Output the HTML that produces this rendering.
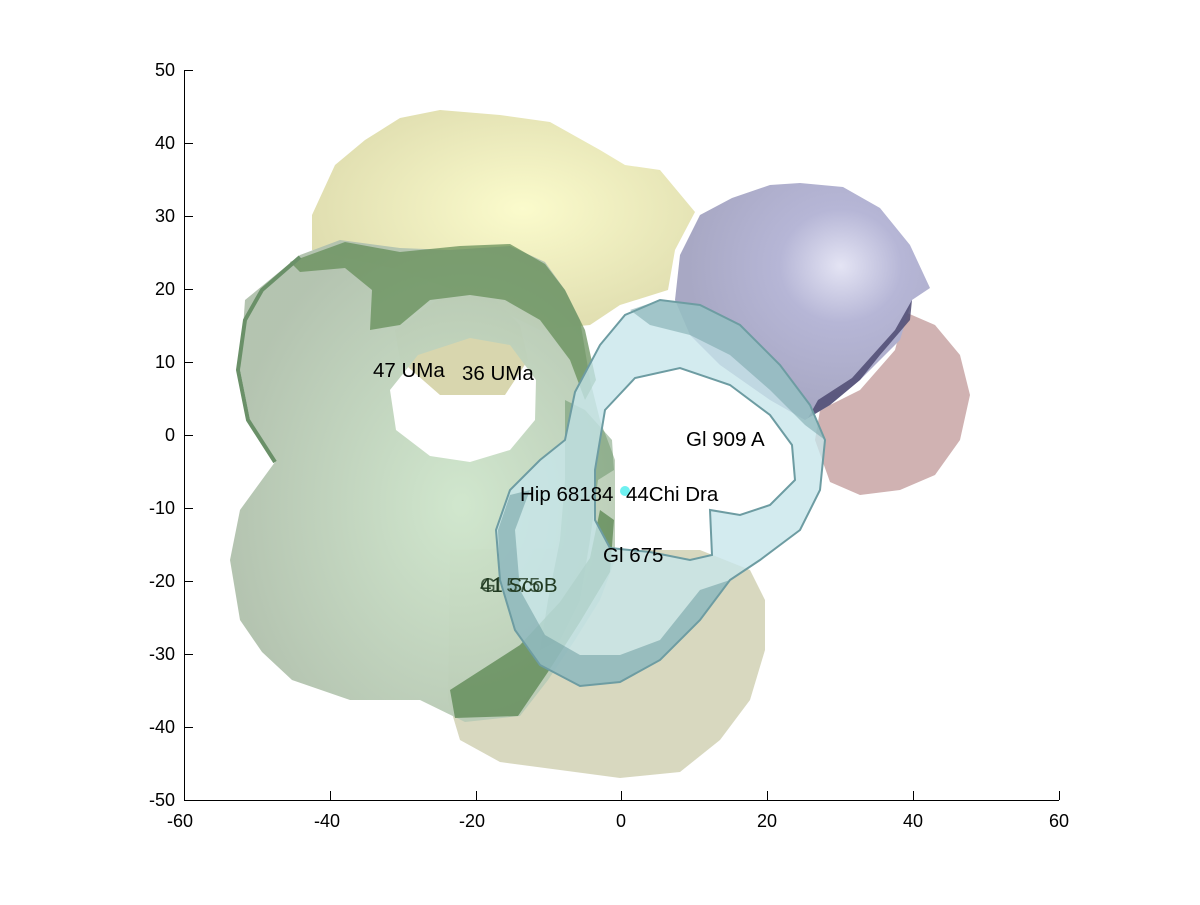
<!DOCTYPE html>
<html><head><meta charset="utf-8"><style>
html,body{margin:0;padding:0;background:#fff;}
svg text{font-family:"Liberation Sans",Arial,sans-serif;}
</style></head><body>
<svg width="1200" height="900" viewBox="0 0 1200 900" xmlns="http://www.w3.org/2000/svg">
<rect width="1200" height="900" fill="#fff"/>
<defs>
<radialGradient id="gy" cx="0.55" cy="0.45" r="0.6"><stop offset="0" stop-color="#fbfbcc"/><stop offset="1" stop-color="#dedcae"/></radialGradient>
<radialGradient id="gp" cx="0.65" cy="0.35" r="0.6"><stop offset="0" stop-color="#e4e4f4"/><stop offset="0.4" stop-color="#b6b6d6"/><stop offset="1" stop-color="#a8a8c4"/></radialGradient>
<radialGradient id="gg" cx="0.6" cy="0.55" r="0.6"><stop offset="0" stop-color="#cfe6cc"/><stop offset="1" stop-color="#b2c2ae"/></radialGradient>
</defs>
<polygon fill="url(#gy)" points="312,215 335,165 365,140 400,118 440,110 500,115 550,122 600,150 625,165 660,170 695,212 675,250 668,290 620,305 590,325 540,330 480,300 400,270 312,250"/>
<polygon fill="#d6d6bc" opacity="0.95" points="450,550 520,548 600,550 700,550 750,570 765,600 765,650 750,700 720,740 680,772 620,778 560,770 500,762 460,740 448,700"/>
<polygon fill="#d0b2b2" points="905,312 935,325 960,355 970,395 960,440 935,475 900,490 860,495 830,482 815,440 820,410 860,390 895,350"/>
<polygon fill="url(#gp)" points="680,255 700,215 732,198 770,185 800,183 843,187 880,208 910,245 930,288 912,300 900,340 860,380 830,405 805,420 770,400 720,365 690,335 675,300"/>
<polygon fill="#4e4a72" opacity="0.85" points="912,300 910,320 880,355 860,380 830,405 808,418 818,400 852,378 895,330"/>
<polygon fill="#d8d6ae" points="395,330 440,298 490,295 520,325 528,360 505,395 440,395 400,360"/>
<path fill="url(#gg)" fill-opacity="0.97" fill-rule="evenodd" d="M245,300 L240,370 L250,420 L275,462 L240,510 L230,560 L240,620 L262,652 L292,680 L350,700 L420,700 L465,722 L520,716 L548,680 L575,640 L600,600 L615,560 L615,460 L600,420 L590,380 L580,320 L565,290 L545,262 L510,246 L450,250 L400,248 L340,240 L300,255 Z M390,390 L418,355 L470,338 L510,345 L536,380 L535,420 L510,450 L470,462 L430,456 L396,430 Z"/>
<polygon fill="#5f8a52" opacity="0.7" points="290,262 345,242 400,252 460,246 510,244 545,264 565,290 585,330 596,380 585,400 570,360 540,320 505,300 470,295 430,300 400,325 370,330 372,290 345,268 300,272"/>
<polygon fill="#5a8650" opacity="0.75" points="450,690 520,645 560,602 590,558 600,510 614,520 610,572 580,622 548,672 518,716 455,718"/>
<polygon fill="#5a8a5a" opacity="0.45" points="565,400 585,410 612,440 614,470 598,480 590,540 580,600 560,640 540,650 548,600 560,540 565,480"/>
<polyline fill="none" stroke="#6a9068" stroke-width="4" points="300,257 262,290 245,320 238,370 248,420 275,462"/>
<path fill="#c6e6ea" fill-opacity="0.78" stroke="#6d9ca2" stroke-width="2" fill-rule="evenodd" d="M575,392 L600,345 L625,315 L660,300 L700,305 L740,325 L780,365 L810,405 L825,440 L820,490 L800,530 L760,560 L730,580 L700,620 L660,660 L620,682 L580,686 L540,665 L515,630 L500,580 L496,530 L510,490 L540,460 L565,440 Z M605,410 L635,378 L680,368 L730,385 L770,415 L792,445 L795,480 L770,505 L740,515 L710,510 L712,555 L690,560 L650,552 L610,548 L595,520 L595,470 L600,440 Z"/>
<polygon fill="#6f9fa3" opacity="0.55" points="500,580 515,630 540,665 580,686 620,682 660,660 700,620 730,580 700,590 660,640 620,655 580,655 545,635 520,590 515,530 530,490 510,495 498,530"/>
<polygon fill="#6f9fa3" opacity="0.5" points="630,310 660,300 700,305 740,325 780,365 810,405 825,440 805,425 770,390 730,355 690,335 650,325"/>
<circle cx="625" cy="491" r="5" fill="#6ef0f0"/>
<g font-size="20.5" fill="#000">
<text x="373" y="377">47 UMa</text>
<text x="462" y="380">36 UMa</text>
<text x="686" y="446">Gl 909 A</text>
<text x="520" y="501">Hip 68184</text>
<text x="626" y="501">44Chi Dra</text>
<text x="603" y="562">Gl 675</text>
<text x="480" y="592" fill="#213a21">41 ScoB</text>
<text x="480" y="592" fill="#213a21" opacity="0.8">Gl 575</text>
</g>
<g stroke="#000" stroke-width="1" fill="none">
<line x1="184.5" y1="70" x2="184.5" y2="800"/>
<line x1="184" y1="800.5" x2="1059" y2="800.5"/>
<line x1="184" y1="70.5" x2="193" y2="70.5"/>
<line x1="184" y1="143.5" x2="193" y2="143.5"/>
<line x1="184" y1="216.5" x2="193" y2="216.5"/>
<line x1="184" y1="289.5" x2="193" y2="289.5"/>
<line x1="184" y1="362.5" x2="193" y2="362.5"/>
<line x1="184" y1="435.5" x2="193" y2="435.5"/>
<line x1="184" y1="508.5" x2="193" y2="508.5"/>
<line x1="184" y1="581.5" x2="193" y2="581.5"/>
<line x1="184" y1="654.5" x2="193" y2="654.5"/>
<line x1="184" y1="727.5" x2="193" y2="727.5"/>
<line x1="330.5" y1="800" x2="330.5" y2="791"/>
<line x1="476.5" y1="800" x2="476.5" y2="791"/>
<line x1="621.5" y1="800" x2="621.5" y2="791"/>
<line x1="767.5" y1="800" x2="767.5" y2="791"/>
<line x1="913.5" y1="800" x2="913.5" y2="791"/>
<line x1="1059.5" y1="800" x2="1059.5" y2="791"/>
</g>
<g font-size="18" fill="#000" text-anchor="end">
<text x="175" y="76">50</text><text x="175" y="149">40</text><text x="175" y="222">30</text>
<text x="175" y="295">20</text><text x="175" y="368">10</text><text x="175" y="441">0</text>
<text x="175" y="514">-10</text><text x="175" y="587">-20</text><text x="175" y="660">-30</text>
<text x="175" y="733">-40</text><text x="175" y="806">-50</text>
</g>
<g font-size="18" fill="#000" text-anchor="middle">
<text x="180" y="827">-60</text><text x="327" y="827">-40</text><text x="472" y="827">-20</text>
<text x="621" y="827">0</text><text x="767" y="827">20</text><text x="913" y="827">40</text><text x="1059" y="827">60</text>
</g>
</svg>
</body></html>
